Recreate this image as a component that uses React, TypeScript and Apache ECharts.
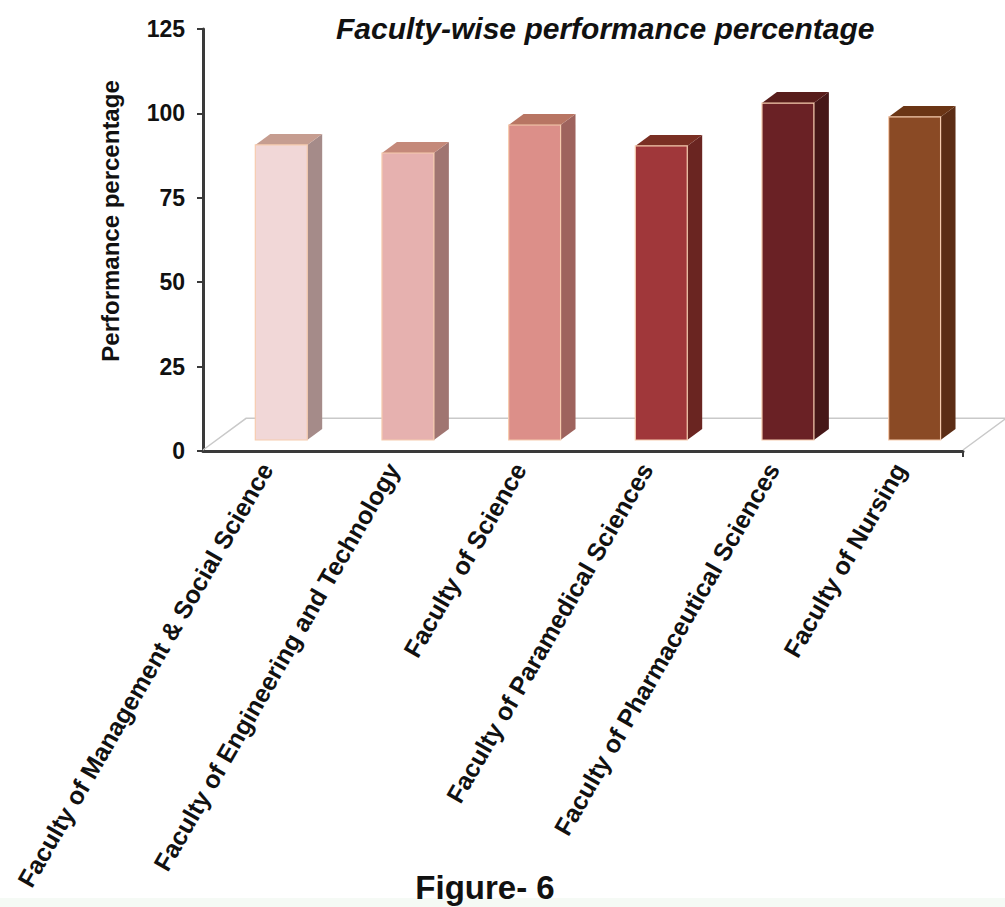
import React, { useEffect, useRef } from "react";
import * as echarts from "echarts";

const categories = [
  "Faculty of Management & Social Science",
  "Faculty of Engineering and Technology",
  "Faculty of Science",
  "Faculty of Paramedical Sciences",
  "Faculty of Pharmaceutical Sciences",
  "Faculty of Nursing",
];
const performance = [87.4, 85.0, 93.3, 87.1, 99.8, 95.7];
const yTicks = [0, 25, 50, 75, 100, 125];

const frontColors = ["#F1D7D7", "#E6B1AF", "#DC8F89", "#A0373A", "#6A2125", "#8A4A25"];
const sideColors = ["#A58B89", "#A07571", "#9E635D", "#6A2521", "#461718", "#5C2D15"];
const topColors = ["#C69D90", "#C4897A", "#B87563", "#7A2F23", "#581D1B", "#6B3515"];

const FONT = "Arial, 'Liberation Sans', Helvetica, sans-serif";

export default function App() {
  const ref = useRef<HTMLDivElement>(null);
  useEffect(() => {
    if (!ref.current) return;
    const chart = echarts.init(ref.current, null, { renderer: "svg" });
    const option: any = {
      animation: false,
      backgroundColor: "#ffffff",
      title: {
        text: "Faculty-wise performance percentage",
        left: 331,
        top: 8,
        textStyle: {
          fontFamily: FONT,
          fontSize: 30,
          fontWeight: "bold",
          fontStyle: "italic",
          color: "#111",
        },
      },
      grid: { left: 203, right: 42, top: 29, bottom: 456, containLabel: false },
      xAxis: {
        type: "category",
        data: categories,
        boundaryGap: true,
        axisLine: { lineStyle: { color: "#3a3a3a", width: 3 } },
        axisTick: { alignWithLabel: true, length: 6, lineStyle: { color: "#3a3a3a", width: 2 } },
        axisLabel: {
          interval: 0,
          rotate: 60,
          margin: 14,
          fontFamily: FONT,
          fontSize: 25,
          fontWeight: "bold",
          color: "#111",
        },
        splitLine: { show: false },
      },
      yAxis: {
        type: "value",
        min: yTicks[0],
        max: yTicks[yTicks.length - 1],
        interval: 25,
        axisLine: { show: true, lineStyle: { color: "#3a3a3a", width: 3 } },
        axisTick: { show: true, length: 6, lineStyle: { color: "#3a3a3a", width: 2 } },
        axisLabel: {
          margin: 18,
          fontFamily: FONT,
          fontSize: 23,
          fontWeight: "bold",
          color: "#111",
        },
        splitLine: { show: false },
      },
      graphic: [
        {
          type: "rect",
          z: -10,
          shape: { x: 0, y: 898, width: 1005, height: 9 },
          style: { fill: "#F5FAF5" },
        },
        {
          type: "text",
          x: 110,
          y: 221,
          rotation: Math.PI / 2,
          style: {
            text: "Performance percentage",
            fontFamily: FONT,
            fontSize: 24,
            fontWeight: "bold",
            fill: "#111",
            align: "center",
            verticalAlign: "middle",
          },
        },
        {
          type: "text",
          x: 485,
          y: 887,
          style: {
            text: "Figure- 6",
            fontFamily: FONT,
            fontSize: 33,
            fontWeight: "bold",
            fill: "#111",
            align: "center",
            verticalAlign: "middle",
          },
        },
      ],
      series: [
        {
          type: "custom",
          name: "floor",
          z: 1,
          data: [[0, 0]],
          encode: { x: 0, y: 1 },
          renderItem: (params: any, api: any) => {
            const band = api.size([1, 0])[0];
            const first = api.coord([0, 0]);
            const last = api.coord([categories.length - 1, 0]);
            const lx = first[0] - band / 2;
            const rx = last[0] + band / 2;
            const y = first[1] - 1;
            const ddx = band * 0.34;
            const ddy = -band * 0.25;
            return {
              type: "group",
              children: [
                {
                  type: "polyline",
                  shape: {
                    points: [
                      [lx, y],
                      [lx + ddx, y + ddy],
                      [rx + ddx, y + ddy],
                      [rx, y],
                    ],
                  },
                  style: { stroke: "#C9C9C9", lineWidth: 1.5, fill: null },
                },
                {
                  type: "line",
                  shape: { x1: rx, y1: first[1], x2: rx, y2: first[1] + 6 },
                  style: { stroke: "#3a3a3a", lineWidth: 2 },
                },
              ],
            };
          },
        },
        {
          type: "custom",
          name: "Performance percentage",
          z: 3,
          data: performance.map((v, i) => [i, v]),
          encode: { x: 0, y: 1 },
          renderItem: (params: any, api: any) => {
            const i = params.dataIndex;
            const v = api.value(1);
            const base = api.coord([i, 0]);
            const topP = api.coord([i, v]);
            const band = api.size([1, 0])[0];
            const w = band * 0.41;
            const ox = band * 0.118;
            const oy = -band * 0.087;
            const dx = band * 0.118;
            const dy = -band * 0.087;
            const x0 = base[0] + ox - w / 2;
            const x1 = x0 + w;
            const yb = base[1] + oy;
            const yt = topP[1] + oy;
            return {
              type: "group",
              children: [
                {
                  type: "polygon",
                  shape: {
                    points: [
                      [x1, yb],
                      [x1 + dx, yb + dy],
                      [x1 + dx, yt + dy],
                      [x1, yt],
                    ],
                  },
                  style: { fill: sideColors[i] },
                },
                {
                  type: "polygon",
                  shape: {
                    points: [
                      [x0, yt],
                      [x0 + dx, yt + dy],
                      [x1 + dx, yt + dy],
                      [x1, yt],
                    ],
                  },
                  style: { fill: topColors[i] },
                },
                {
                  type: "rect",
                  shape: { x: x0, y: yt, width: w, height: yb - yt },
                  style: { fill: frontColors[i], stroke: "#F6CBAE", lineWidth: 1.2 },
                },
              ],
            };
          },
        },
      ],
    };
    chart.setOption(option);
    return () => chart.dispose();
  }, []);
  return (
    <div
      ref={ref}
      style={{ position: "absolute", left: 0, top: 0, width: 1005, height: 907 }}
    />
  );
}
